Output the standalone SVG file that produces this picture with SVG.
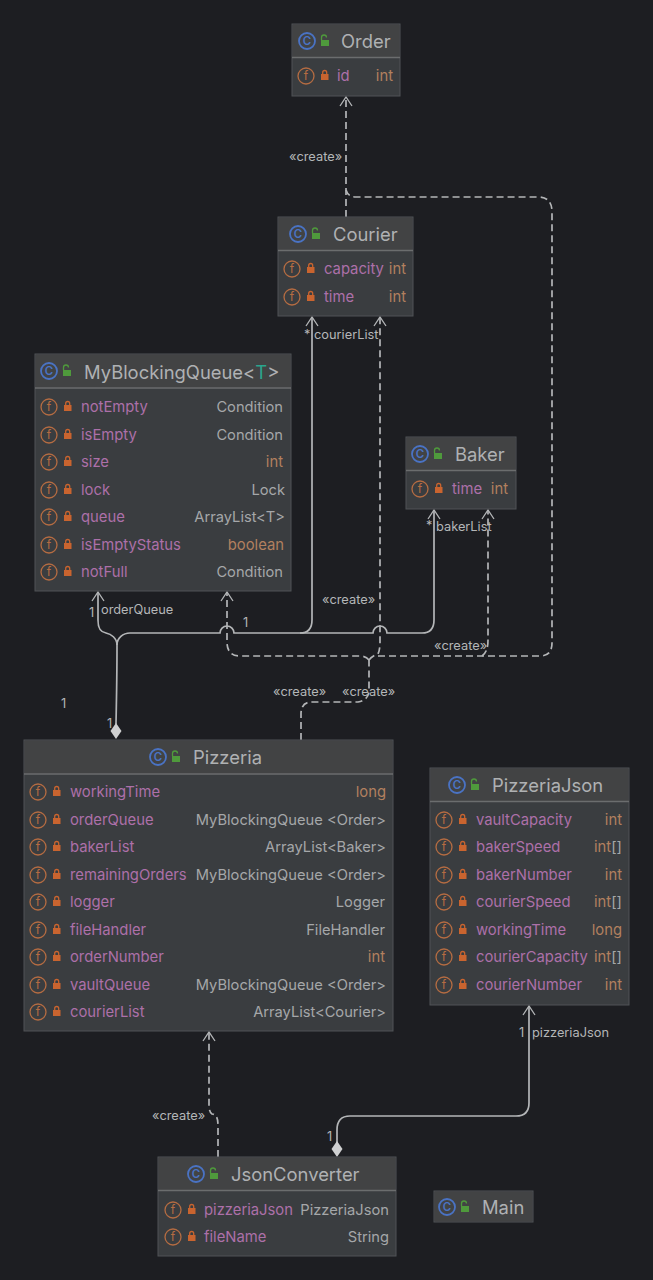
<svg xmlns="http://www.w3.org/2000/svg" xmlns:xlink="http://www.w3.org/1999/xlink" width="653" height="1280" viewBox="0 0 653 1280">
<style>
text{font-family:Inter,"Liberation Sans",sans-serif}
.box{fill:#3a3d40;stroke:#515356;stroke-width:1}
.hd{fill:#424344}
.sep{stroke:#6b6d6e;stroke-width:1.5}
.t{font-size:18.4px;fill:#afb1b3}
.n{font-size:14.8px;fill:#ad70a9}
.v{font-size:14.7px;fill:#a5a7a9;text-anchor:end}
.p{font-size:14.8px;fill:#b2805f;text-anchor:end}
.l{font-size:12.8px;fill:#b4b6b8}
.c{fill:none;stroke:#b4b6b8;stroke-width:1.7}
.d{fill:none;stroke:#b4b6b8;stroke-width:1.7;stroke-dasharray:7 4}
.ah{fill:none;stroke:#b4b6b8;stroke-width:1.3}
.dm{fill:#cfd0d1}
.ic{fill:none;stroke:#4a73c4;stroke-width:1.8}
.ict{font-size:11.500px;font-weight:600;fill:#4a73c4;text-anchor:middle}
.if{fill:none;stroke:#b56c42;stroke-width:1.3}
.ift{font-size:12px;fill:#b56c42;text-anchor:middle}
.lk{fill:#c9642f}
.ul{fill:#4f9a3c}
</style>
<defs>
<g id="cls"><circle cx="0" cy="0" r="8" class="ic"/><text x="0" y="4" class="ict">C</text><rect x="14" y="-1" width="8" height="6" class="ul"/><path d="M14.500 -1v-2.500a2.500 2.500 0 0 1 5 0" fill="none" stroke="#4f9a3c" stroke-width="1.3"/></g>
<g id="fld"><circle cx="0" cy="0" r="8" class="if"/><text x="0" y="4.300" class="ift">f</text><rect x="15" y="-2" width="7.500" height="6" class="lk"/><path d="M16.700 -2v-1.500a2 2 0 0 1 4 0v1.500" fill="none" stroke="#c9642f" stroke-width="1.3"/></g>
<path id="a" d="M-6 9L0 0L6 9M0 0" class="ah"/>
</defs>
<rect width="653" height="1280" fill="#1d1e22"/>
<g id="connectors">
<path class="c" d="M116 724C116.500 700 117 670 117 645C117 638 111 634 106 633C100 632 98 628 98 620V592"/>
<path class="c" d="M117 645C117 638 123 633 130 633H220a7 7 0 0 1 14 0H300Q312 633 312 620V317"/>
<path class="c" d="M300 633H373a7 7 0 0 1 14 0H422Q434 633 434 620V510"/>
<path class="d" d="M301 740V714Q301 702 312 702H358Q369 700 369 690V660"/>
<path class="d" d="M369 660Q366 656 360 656H240Q227 656 227 642V592"/>
<path class="d" d="M369 660Q372 656 378 654Q380 650 380 642V317"/>
<path class="d" d="M378 656H540Q552 656 552 643V212Q552 197 538 197H356Q348 197 346 190"/>
<path class="d" d="M346 217V97"/>
<path class="d" d="M482 656Q488 652 488 640V510"/>
<path class="d" d="M218 1157V1125Q218 1114 212 1114Q209 1112 209 1105V1032"/>
<path class="c" d="M337 1145V1130Q337 1116 350 1116H516Q529 1116 529 1103V1006"/>
<path class="dm" d="M116 723l5.500 8l-5.500 8l-5.500-8z"/>
<path class="dm" d="M337 1141l5.500 8l-5.500 8l-5.500-8z"/>
<use href="#a" x="98" y="592"/><use href="#a" x="227" y="592"/><use href="#a" x="312" y="317"/><use href="#a" x="380" y="317"/><use href="#a" x="434" y="510"/><use href="#a" x="488" y="510"/><use href="#a" x="346" y="97"/><use href="#a" x="209" y="1032"/><use href="#a" x="529" y="1006"/>
<text class="l" x="289" y="161">«create»</text>
<text class="l" x="304" y="339">* courierList</text>
<text class="l" x="322" y="604">«create»</text>
<text class="l" x="426" y="530">*</text>
<text class="l" x="436" y="531">bakerList</text>
<text class="l" x="434" y="650">«create»</text>
<text class="l" x="273" y="696">«create»</text>
<text class="l" x="342" y="696">«create»</text>
<text class="l" x="61" y="708">1</text>
<text class="l" x="107" y="728">1</text>
<text class="l" x="89" y="617">1</text>
<text class="l" x="101" y="614">orderQueue</text>
<text class="l" x="243" y="627">1</text>
<text class="l" x="519" y="1037">1</text>
<text class="l" x="532" y="1037">pizzeriaJson</text>
<text class="l" x="327" y="1141">1</text>
<text class="l" x="152" y="1120">«create»</text>
</g>
<g id="Order">
<rect class="box" x="292" y="24" width="108" height="72"/><rect class="hd" x="292.500" y="24.500" width="107" height="33"/><path class="sep" d="M292 57.500H400"/>
<use href="#cls" x="307" y="41"/><text class="t" x="341" y="48">Order</text>
<use href="#fld" x="306" y="76"/><text class="n" x="337" y="81">id</text><text class="p" x="393" y="81">int</text>
</g>
<g id="Courier">
<rect class="box" x="278" y="217" width="135" height="99"/><rect class="hd" x="278.500" y="217.500" width="134" height="33"/><path class="sep" d="M278 250.500H413"/>
<use href="#cls" x="298" y="234"/><text class="t" x="333" y="241">Courier</text>
<use href="#fld" x="292" y="269"/><text class="n" x="324" y="274">capacity</text><text class="p" x="406" y="274">int</text>
<use href="#fld" x="292" y="297"/><text class="n" x="324" y="302">time</text><text class="p" x="406" y="302">int</text>
</g>
<g id="MyBlockingQueue">
<rect class="box" x="35" y="354" width="256" height="237"/><rect class="hd" x="35.500" y="354.500" width="255" height="33"/><path class="sep" d="M35 388H291"/>
<use href="#cls" x="49" y="371"/><text class="t" x="84" y="379">MyBlockingQueue&lt;<tspan fill="#2aa58e">T</tspan>&gt;</text>
<use href="#fld" x="49" y="407"/><text class="n" x="81" y="412">notEmpty</text><text class="v" x="283" y="412">Condition</text>
<use href="#fld" x="49" y="435"/><text class="n" x="81" y="440">isEmpty</text><text class="v" x="283" y="440">Condition</text>
<use href="#fld" x="49" y="462"/><text class="n" x="81" y="467">size</text><text class="p" x="283" y="467">int</text>
<use href="#fld" x="49" y="490"/><text class="n" x="81" y="495">lock</text><text class="v" x="285" y="495">Lock</text>
<use href="#fld" x="49" y="517"/><text class="n" x="81" y="522">queue</text><text class="v" x="285" y="522">ArrayList&lt;T&gt;</text>
<use href="#fld" x="49" y="545"/><text class="n" x="81" y="550">isEmptyStatus</text><text class="p" x="284" y="550">boolean</text>
<use href="#fld" x="49" y="572"/><text class="n" x="81" y="577">notFull</text><text class="v" x="283" y="577">Condition</text>
</g>
<g id="Baker">
<rect class="box" x="406" y="437" width="110" height="72"/><rect class="hd" x="406.500" y="437.500" width="109" height="33"/><path class="sep" d="M406 470.500H516"/>
<use href="#cls" x="420" y="454"/><text class="t" x="455" y="461">Baker</text>
<use href="#fld" x="420" y="489"/><text class="n" x="452" y="494">time</text><text class="p" x="508" y="494">int</text>
</g>
<g id="Pizzeria">
<rect class="box" x="24" y="740" width="369" height="291"/><rect class="hd" x="24.500" y="740.500" width="368" height="33"/><path class="sep" d="M24 774H393"/>
<use href="#cls" x="158" y="757"/><text class="t" x="193" y="764">Pizzeria</text>
<use href="#fld" x="38" y="792"/><text class="n" x="70" y="797">workingTime</text><text class="p" x="386" y="797">long</text>
<use href="#fld" x="38" y="820"/><text class="n" x="70" y="825">orderQueue</text><text class="v" x="386" y="825">MyBlockingQueue &lt;Order&gt;</text>
<use href="#fld" x="38" y="847"/><text class="n" x="70" y="852">bakerList</text><text class="v" x="386" y="852">ArrayList&lt;Baker&gt;</text>
<use href="#fld" x="38" y="875"/><text class="n" x="70" y="880">remainingOrders</text><text class="v" x="386" y="880">MyBlockingQueue &lt;Order&gt;</text>
<use href="#fld" x="38" y="902"/><text class="n" x="70" y="907">logger</text><text class="v" x="385" y="907">Logger</text>
<use href="#fld" x="38" y="930"/><text class="n" x="70" y="935">fileHandler</text><text class="v" x="385" y="935">FileHandler</text>
<use href="#fld" x="38" y="957"/><text class="n" x="70" y="962">orderNumber</text><text class="p" x="385" y="962">int</text>
<use href="#fld" x="38" y="985"/><text class="n" x="70" y="990">vaultQueue</text><text class="v" x="386" y="990">MyBlockingQueue &lt;Order&gt;</text>
<use href="#fld" x="38" y="1012"/><text class="n" x="70" y="1017">courierList</text><text class="v" x="386" y="1017">ArrayList&lt;Courier&gt;</text>
</g>
<g id="PizzeriaJson">
<rect class="box" x="430" y="768" width="199" height="237"/><rect class="hd" x="430.500" y="768.500" width="198" height="33"/><path class="sep" d="M430 801.500H629"/>
<use href="#cls" x="457" y="785"/><text class="t" x="492" y="792">PizzeriaJson</text>
<use href="#fld" x="444" y="820"/><text class="n" x="476" y="825">vaultCapacity</text><text class="p" x="622" y="825">int</text>
<use href="#fld" x="444" y="847"/><text class="n" x="476" y="852">bakerSpeed</text><text class="p" x="622" y="852">int<tspan fill="#a5a7a9">[]</tspan></text>
<use href="#fld" x="444" y="875"/><text class="n" x="476" y="880">bakerNumber</text><text class="p" x="622" y="880">int</text>
<use href="#fld" x="444" y="902"/><text class="n" x="476" y="907">courierSpeed</text><text class="p" x="622" y="907">int<tspan fill="#a5a7a9">[]</tspan></text>
<use href="#fld" x="444" y="930"/><text class="n" x="476" y="935">workingTime</text><text class="p" x="622" y="935">long</text>
<use href="#fld" x="444" y="957"/><text class="n" x="476" y="962">courierCapacity</text><text class="p" x="622" y="962">int<tspan fill="#a5a7a9">[]</tspan></text>
<use href="#fld" x="444" y="985"/><text class="n" x="476" y="990">courierNumber</text><text class="p" x="622" y="990">int</text>
</g>
<g id="JsonConverter">
<rect class="box" x="158" y="1157" width="238" height="99"/><rect class="hd" x="158.500" y="1157.500" width="237" height="33"/><path class="sep" d="M158 1190.500H396"/>
<use href="#cls" x="196" y="1174"/><text class="t" x="231" y="1181">JsonConverter</text>
<use href="#fld" x="173" y="1210"/><text class="n" x="204" y="1215">pizzeriaJson</text><text class="v" x="389" y="1215">PizzeriaJson</text>
<use href="#fld" x="173" y="1237"/><text class="n" x="204" y="1242">fileName</text><text class="v" x="389" y="1242">String</text>
</g>
<g id="Main">
<rect class="box" x="434" y="1191" width="99" height="31"/><rect class="hd" x="434.500" y="1191.500" width="98" height="30"/>
<use href="#cls" x="447" y="1207"/><text class="t" x="482" y="1214">Main</text>
</g>
</svg>
